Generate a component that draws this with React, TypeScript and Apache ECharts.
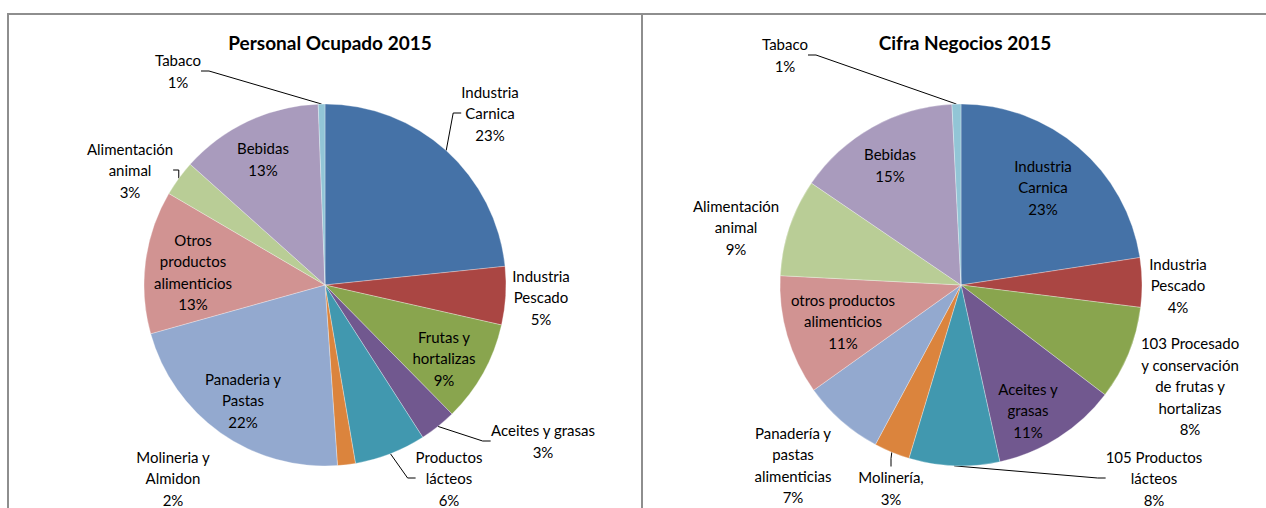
import React, { useEffect, useRef } from "react";
import * as echarts from "echarts";

// ---- Data ----
const colors = [
  "#4572A7", "#AA4643", "#89A54E", "#71588F", "#4198AF", "#DB843D",
  "#93A9CF", "#D19392", "#B9CD96", "#A99BBD", "#92C5D6",
];

const personalNames = [
  "Industria\nCarnica", "Industria\nPescado", "Frutas y\nhortalizas", "Aceites y grasas",
  "Productos\nlácteos", "Molineria y\nAlmidon", "Panaderia y\nPastas",
  "Otros\nproductos\nalimenticios", "Alimentación\nanimal", "Bebidas", "Tabaco",
];
const personalValues = [23.4, 5.2, 9.1, 3.3, 6.4, 1.6, 21.8, 12.8, 3.2, 12.8, 0.6];

const negociosNames = [
  "Industria\nCarnica", "Industria\nPescado", "103 Procesado\ny conservación\nde frutas y\nhortalizas",
  "Aceites y\ngrasas", "105 Productos\nlácteos", "Molinería,", "Panadería y\npastas\nalimenticias",
  "otros productos\nalimenticios", "Alimentación\nanimal", "Bebidas", "Tabaco",
];
const negociosValues = [22.6, 4.4, 8.4, 11.2, 8.1, 3.2, 7.3, 10.7, 8.7, 14.7, 0.8];

const titles = ["Personal Ocupado 2015", "Cifra Negocios 2015"];

// ---- Layout (label anchor points and leader-line visibility) ----
const personalLabelPos = [
  [490, 113], [541, 297], [444, 358], [543, 441], [449, 478], [173, 478],
  [243, 400], [193, 272], [130, 170], [263, 159], [178, 71],
];
const personalLines = [true, false, false, true, true, false, false, false, true, false, true];
const negociosLabelPos = [
  [1043, 187], [1178, 285], [1190, 386], [1028, 410], [1154, 478], [891, 488],
  [793, 465], [843, 321], [736, 227], [890, 165], [785, 55],
];
const negociosLines = [false, false, false, false, true, true, false, false, false, false, true];

const FONT = "Lato";

function makeSeries(names: string[], values: number[], pos: number[][], lines: boolean[], center: number[]) {
  return {
    type: "pie",
    center,
    radius: 181,
    startAngle: 90,
    clockwise: true,
    avoidLabelOverlap: false,
    silent: true,
    data: names.map((n, i) => ({
      name: n,
      value: values[i],
      itemStyle: { color: colors[i] },
      labelLine: { show: lines[i] },
    })),
    itemStyle: { borderColor: "rgba(255,255,255,0.6)", borderWidth: 0.5 },
    label: {
      show: true,
      position: "outside",
      formatter: (p: any) => `${p.name}\n${Math.round(p.percent)}%`,
      color: "#000",
      fontFamily: FONT,
      fontSize: 15,
      lineHeight: 21.5,
      align: "center",
    },
    labelLine: {
      show: true,
      length: 8,
      length2: 8,
      smooth: false,
      lineStyle: { color: "#000", width: 1 },
    },
    labelLayout: (p: any) => ({
      x: pos[p.dataIndex][0],
      y: pos[p.dataIndex][1],
      align: "center",
      verticalAlign: "middle",
    }),
  };
}

export default function App() {
  const ref = useRef<HTMLDivElement>(null);
  useEffect(() => {
    if (!ref.current) return;
    const chart = echarts.init(ref.current, undefined, { renderer: "svg" });
    const borderStyle = { stroke: "#8e8e8e", lineWidth: 2 };
    const titleStyle = { fontFamily: FONT, fontWeight: "bold", fontSize: 19, color: "#000" };
    chart.setOption({
      animation: false,
      backgroundColor: "#ffffff",
      title: [
        { text: titles[0], left: 325, top: 28, textAlign: "center", textStyle: titleStyle },
        { text: titles[1], left: 960, top: 28, textAlign: "center", textStyle: titleStyle },
      ],
      graphic: [
        { type: "line", shape: { x1: 7, y1: 14, x2: 1266, y2: 14 }, style: borderStyle },
        { type: "line", shape: { x1: 8, y1: 14, x2: 8, y2: 508 }, style: borderStyle },
        { type: "line", shape: { x1: 642, y1: 14, x2: 642, y2: 508 }, style: borderStyle },
      ],
      series: [
        makeSeries(personalNames, personalValues, personalLabelPos, personalLines, [325, 285]),
        makeSeries(negociosNames, negociosValues, negociosLabelPos, negociosLines, [961, 285]),
      ],
    });
    return () => chart.dispose();
  }, []);
  return (
    <div
      ref={ref}
      style={{ position: "fixed", left: 0, top: 0, width: 1266, height: 508 }}
    />
  );
}
